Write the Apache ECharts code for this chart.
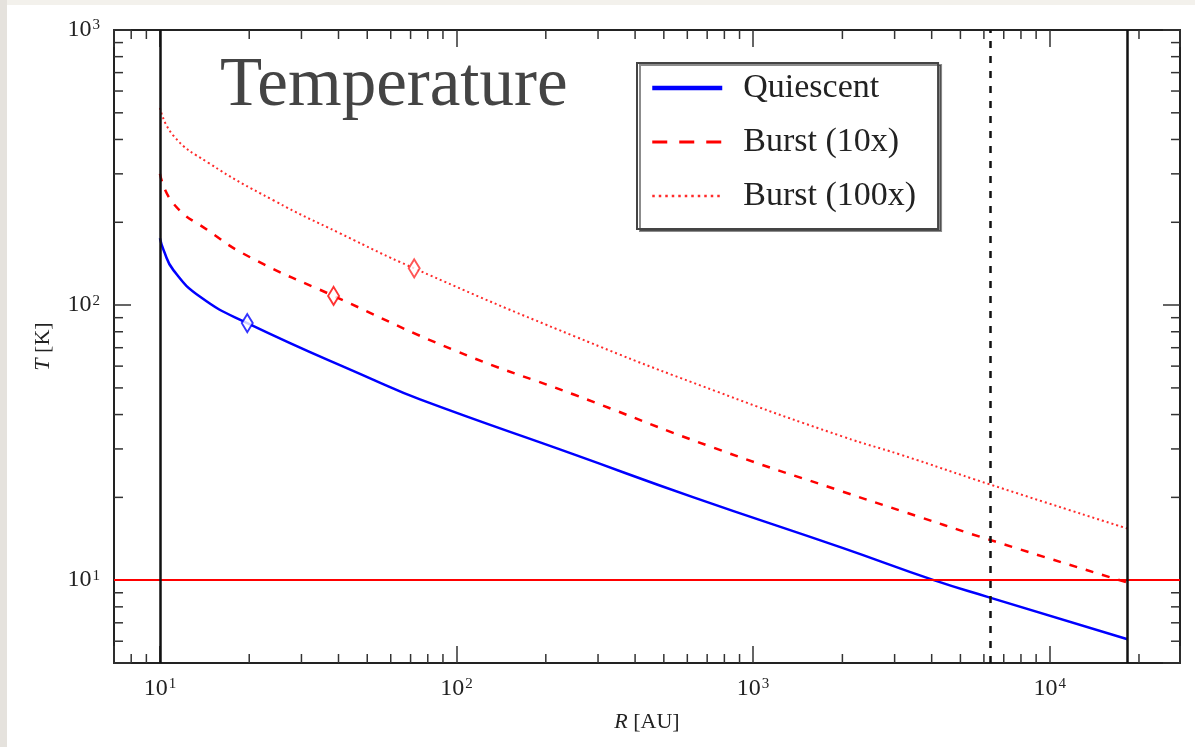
<!DOCTYPE html>
<html><head><meta charset="utf-8">
<script src="https://cdn.jsdelivr.net/npm/echarts@6/dist/echarts.min.js"></script>
<style>
html,body{margin:0;padding:0;width:1195px;height:747px;overflow:hidden;background:#f3f1ec;}
#strip{position:absolute;left:0;top:0;width:7px;height:747px;background:#e5e2dd;}
#chart{position:absolute;left:7px;top:5px;width:1188px;height:742px;background:#fff;}
</style></head><body>
<div id="strip"></div><div id="chart"></div>
<script>
// ---- data ----
const seriesNames = ['Quiescent', 'Burst (10x)', 'Burst (100x)'];
const quiescentR = [10, 10.3, 11.1, 13.7, 19.7, 52.5, 75.7, 250, 630, 2000, 4065, 6170, 18300];
const quiescentT = [175, 158, 134, 107, 86, 53.5, 45.3, 28.6, 20, 13.1, 10, 8.7, 6.1];
const burst10R = [10, 11.1, 14.5, 20.2, 38.5, 100, 250, 736, 2000, 3140, 6170, 18300];
const burst10T = [300, 234, 187, 149, 108, 68, 47.2, 30.3, 21.0, 17.9, 14.1, 9.8];
const burst100R = [10, 11.1, 14.5, 24.2, 40.6, 72, 250, 758, 2000, 3140, 6280, 18300];
const burst100T = [521, 413, 330, 240, 182, 136, 77, 48.4, 33.3, 28.6, 22.3, 15.4];
const markerR = [19.7, 38.5, 72];
const markerT = [86, 108, 136];
const solidVerticalR = [10, 18300];
const dashedVerticalR = [6280];
const thresholdT = 10;
const xRange = [7, 27500];
const yRange = [5, 1000];
const xMinorTicks = [8, 9, 20, 30, 40, 50, 60, 70, 80, 90, 200, 300, 400, 500, 600, 700, 800, 900,
  2000, 3000, 4000, 5000, 6000, 7000, 8000, 9000, 20000];
const yMinorTicks = [6, 7, 8, 9, 20, 30, 40, 50, 60, 70, 80, 90, 200, 300, 400, 500, 600, 700, 800, 900];

// ---- styling ----
const FONT = 'Liberation Serif';
const INK = '#222';
const colors = ['#0000ff', '#ff0000', '#ff2a2a'];
const lineStyles = [
  { width: 2.5, type: 'solid' },
  { width: 2.5, type: [8, 9] },
  { width: 2, type: [2, 3] }
];
const legendLineStyles = [
  { width: 4.5, type: 'solid' },
  { width: 3, type: [15, 12] },
  { width: 2.5, type: [2.5, 4] }
];

function pow10Label(v) {
  const l = Math.log10(v);
  const e = Math.round(l);
  if (Math.abs(l - e) > 1e-6) return '';
  return '{b|10}{s|' + e + '}';
}
const labelRich = {
  b: { fontFamily: FONT, fontSize: 24, color: INK },
  s: { fontFamily: FONT, fontSize: 15, color: INK, verticalAlign: 'top', padding: [0, 0, 0, 1] }
};

function makeSeriesData(R, T) { return R.map((r, i) => [r, T[i]]); }

const TICK = 9;
function tickSeries(values, isX) {
  return {
    type: 'custom', coordinateSystem: 'cartesian2d', silent: true, z: 6,
    xAxisIndex: 0, yAxisIndex: 0,
    data: values.map(v => isX ? [v, yRange[0]] : [xRange[0], v]),
    renderItem: function (params, api) {
      const st = { stroke: '#333', lineWidth: 1.5 };
      if (isX) {
        const v = api.value(0);
        const a = api.coord([v, yRange[0]]);
        const b = api.coord([v, yRange[1]]);
        return { type: 'group', children: [
          { type: 'line', shape: { x1: a[0], y1: a[1], x2: a[0], y2: a[1] - TICK }, style: st },
          { type: 'line', shape: { x1: b[0], y1: b[1], x2: b[0], y2: b[1] + TICK }, style: st }
        ]};
      } else {
        const v = api.value(1);
        const a = api.coord([xRange[0], v]);
        const b = api.coord([xRange[1], v]);
        return { type: 'group', children: [
          { type: 'line', shape: { x1: a[0], y1: a[1], x2: a[0] + TICK, y2: a[1] }, style: st },
          { type: 'line', shape: { x1: b[0], y1: b[1], x2: b[0] - TICK, y2: b[1] }, style: st }
        ]};
      }
    }
  };
}

const curveData = [
  makeSeriesData(quiescentR, quiescentT),
  makeSeriesData(burst10R, burst10T),
  makeSeriesData(burst100R, burst100T)
];

const series = [];
series.push({
  type: 'line', name: 'refH', data: [], z: 1, silent: true,
  markLine: {
    silent: true, symbol: ['none', 'none'], label: { show: false }, animation: false,
    lineStyle: { color: '#ff0000', width: 2, type: 'solid' },
    data: [{ yAxis: thresholdT }]
  }
});
curveData.forEach((d, i) => {
  series.push({
    type: 'line', name: seriesNames[i], data: d, z: 2,
    symbol: 'none', smooth: 0.5,
    lineStyle: Object.assign({ color: colors[i] }, lineStyles[i]),
    itemStyle: { color: colors[i] },
    animation: false
  });
  series.push({
    type: 'scatter', name: seriesNames[i] + ' marker', data: [[markerR[i], markerT[i]]], z: 3,
    symbol: 'emptyDiamond', symbolSize: [11, 18],
    itemStyle: { color: colors[i], borderWidth: 1.5 }, silent: true, animation: false
  });
});
series.push({
  type: 'line', name: 'refV', data: [], z: 4, silent: true,
  markLine: {
    silent: true, symbol: ['none', 'none'], label: { show: false }, animation: false,
    data: solidVerticalR.map(r => ({ xAxis: r, lineStyle: { color: '#111', width: 2.5, type: 'solid' } }))
      .concat(dashedVerticalR.map(r => ({ xAxis: r, lineStyle: { color: '#111', width: 2.5, type: [7, 8] } })))
  }
});
series.push(tickSeries(xMinorTicks, true));
series.push(tickSeries(yMinorTicks, false));

const axisCommon = {
  type: 'log', logBase: 10,
  axisLine: { show: true, lineStyle: { color: INK, width: 2 } },
  axisTick: { show: true, inside: true, length: 17, lineStyle: { color: '#333', width: 1.5 } },
  splitLine: { show: false },
  minorTick: { show: false }
};

const option = {
  animation: false,
  backgroundColor: '#ffffff',
  title: {
    text: 'Temperature', left: 208, top: 42,
    textStyle: { fontFamily: FONT, fontSize: 69, fontWeight: 'normal', color: '#444' }
  },
  legend: {
    data: seriesNames.map((n, i) => ({
      name: n,
      lineStyle: Object.assign({ color: colors[i] }, legendLineStyles[i])
    })),
    orient: 'vertical', left: 630, top: 58,
    itemWidth: 70, itemHeight: 14, itemGap: 20,
    padding: [8, 22, 16, 13],
    backgroundColor: '#fff', borderColor: '#444', borderWidth: 2,
    shadowColor: 'rgba(0,0,0,0.45)', shadowOffsetX: 3, shadowOffsetY: 2, shadowBlur: 0,
    itemStyle: { color: 'rgba(0,0,0,0)', borderWidth: 0, opacity: 0 },
    textStyle: { fontFamily: FONT, fontSize: 34, color: INK, lineHeight: 34, padding: [0, 0, 0, 16] },
    selectedMode: false
  },
  grid: { left: 107, top: 25, right: 15, bottom: 84, containLabel: false },
  xAxis: [
    Object.assign({}, axisCommon, {
      position: 'bottom', min: xRange[0], max: xRange[1],
      name: '{i|R} [AU]', nameLocation: 'middle', nameGap: 48,
      nameTextStyle: { fontFamily: FONT, fontSize: 22, color: INK,
        rich: { i: { fontFamily: FONT, fontSize: 22, fontStyle: 'italic', color: INK } } },
      axisLabel: { margin: 14, formatter: pow10Label, rich: labelRich }
    }),
    Object.assign({}, axisCommon, {
      position: 'top', min: xRange[0], max: xRange[1],
      axisLabel: { show: false }
    })
  ],
  yAxis: [
    Object.assign({}, axisCommon, {
      position: 'left', min: yRange[0], max: yRange[1],
      name: '{i|T} [K]', nameLocation: 'middle', nameGap: 60, nameRotate: 90,
      nameTextStyle: { fontFamily: FONT, fontSize: 22, color: INK,
        rich: { i: { fontFamily: FONT, fontSize: 22, fontStyle: 'italic', color: INK } } },
      axisLabel: { margin: 14, formatter: pow10Label, rich: labelRich }
    }),
    Object.assign({}, axisCommon, {
      position: 'right', min: yRange[0], max: yRange[1],
      axisLabel: { show: false }
    })
  ],
  series: series
};

const chart = echarts.init(document.getElementById('chart'), null, { renderer: 'canvas' });
chart.setOption(option);
</script>
</body></html>
